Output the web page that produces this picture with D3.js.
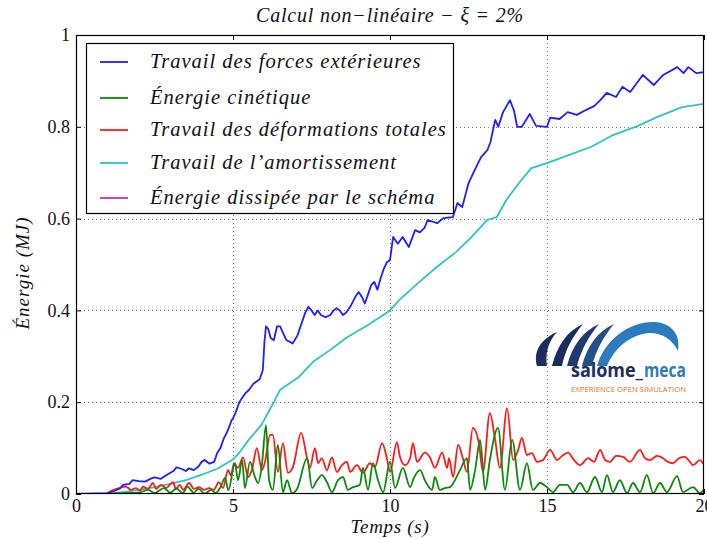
<!DOCTYPE html>
<html><head><meta charset="utf-8">
<script src="https://cdn.jsdelivr.net/npm/d3@7"></script>
<style>body{margin:0;background:#fff}svg{display:block}</style>
</head><body>
<svg id="c" width="707" height="539"></svg>
<script>
// ---- data ----
const xTicks = [0, 5, 10, 15, 20];
const yTicks = [0, 0.2, 0.4, 0.6, 0.8, 1];
const yTickLabels = ["0", "0.2", "0.4", "0.6", "0.8", "1"];
const seriesNames = ["Travail des forces extérieures", "Énergie cinétique", "Travail des déformations totales", "Travail de l\u2019amortissement", "Énergie dissipée par le schéma"];
const seriesColors = ["#1f1fff", "#0a8a0a", "#ff1a1a", "#2ec4c0", "#c030c0"];

const forcesExt = [[0,0],[1.0,0.002],[1.2,0.006],[1.4,0.012],[1.5,0.02],[1.7,0.022],[1.8,0.03],[2.0,0.028],[2.2,0.027],[2.4,0.034],[2.5,0.036],[2.7,0.033],[2.9,0.042],[3.1,0.05],[3.2,0.058],[3.35,0.055],[3.5,0.05],[3.6,0.056],[3.75,0.052],[3.9,0.06],[4.0,0.07],[4.1,0.074],[4.25,0.066],[4.4,0.07],[4.5,0.09],[4.6,0.1],[4.7,0.12],[4.8,0.133],[4.9,0.15],[4.95,0.16],[5.0,0.165],[5.1,0.18],[5.2,0.2],[5.3,0.21],[5.4,0.22],[5.5,0.226],[5.65,0.24],[5.75,0.245],[5.85,0.25],[5.95,0.27],[6.0,0.33],[6.05,0.365],[6.12,0.36],[6.2,0.34],[6.3,0.335],[6.4,0.365],[6.5,0.365],[6.6,0.35],[6.7,0.335],[6.8,0.332],[6.9,0.328],[7.05,0.345],[7.2,0.375],[7.3,0.395],[7.4,0.408],[7.5,0.4],[7.6,0.39],[7.7,0.4],[7.8,0.39],[7.95,0.385],[8.1,0.39],[8.2,0.4],[8.3,0.405],[8.4,0.4],[8.5,0.39],[8.6,0.395],[8.75,0.41],[8.9,0.43],[9.0,0.44],[9.1,0.43],[9.2,0.415],[9.3,0.435],[9.4,0.455],[9.5,0.462],[9.6,0.445],[9.7,0.47],[9.8,0.49],[9.9,0.505],[10.0,0.51],[10.1,0.56],[10.25,0.545],[10.4,0.56],[10.6,0.538],[10.8,0.575],[10.95,0.57],[11.1,0.58],[11.2,0.597],[11.5,0.59],[11.7,0.601],[12.0,0.603],[12.15,0.634],[12.3,0.625],[12.5,0.677],[12.65,0.699],[12.9,0.734],[13.1,0.749],[13.2,0.767],[13.35,0.815],[13.45,0.8],[13.6,0.832],[13.82,0.858],[13.95,0.835],[14.05,0.8],[14.2,0.8],[14.45,0.828],[14.65,0.802],[15.0,0.8],[15.1,0.82],[15.4,0.817],[15.66,0.832],[15.95,0.826],[16.25,0.837],[16.5,0.845],[16.7,0.858],[16.9,0.874],[17.2,0.865],[17.4,0.887],[17.65,0.876],[18.05,0.913],[18.4,0.891],[18.7,0.913],[19.15,0.93],[19.35,0.917],[19.5,0.93],[19.75,0.917],[20,0.919]];

const cinetique = [[0,0],[1.0,0],[1.5,0.002],[2.0,0.003],[2.3,0.009],[2.5,0.002],[2.8,0.013],[3.0,0.003],[3.2,0.012],[3.4,0.002],[3.55,0.016],[3.75,0.003],[3.9,0.011],[4.1,0.001],[4.3,0.009],[4.45,0.002],[4.6,0.015],[4.75,0.035],[4.85,0.008],[5.06,0.067],[5.16,0.03],[5.29,0.074],[5.38,0.013],[5.54,0.07],[5.7,0.037],[5.8,0.024],[5.92,0.063],[6.05,0.15],[6.15,0.03],[6.27,0.009],[6.43,0.107],[6.59,0.004],[6.72,0.03],[6.88,0.002],[7.04,0.011],[7.36,0.078],[7.52,0.013],[7.68,0.03],[7.83,0.041],[7.99,0.026],[8.15,0.004],[8.34,0.03],[8.5,0.037],[8.66,0.009],[8.82,0.015],[9.04,0.02],[9.14,0.057],[9.3,0.009],[9.46,0.067],[9.62,0.03],[9.78,0.004],[10.0,0.07],[10.16,0.013],[10.41,0.057],[10.64,0.015],[10.76,0.035],[10.96,0.052],[11.11,0.03],[11.34,0.009],[11.43,0.037],[11.59,0.009],[11.75,0.013],[11.91,0.015],[12.23,0.052],[12.45,0.078],[12.55,0.009],[12.71,0.052],[12.87,0.118],[13.03,0.009],[13.18,0.074],[13.44,0.144],[13.66,0.009],[13.89,0.118],[14.14,0.009],[14.36,0.067],[14.55,0.009],[14.78,0.024],[15.0,0.015],[15.19,0.004],[15.41,0.02],[15.64,0.02],[15.83,0.004],[16.05,0.024],[16.27,0.004],[16.53,0.037],[16.75,0.004],[16.91,0.041],[17.1,0.004],[17.32,0.03],[17.55,0.002],[17.74,0.024],[17.96,0.004],[18.18,0.041],[18.38,0.002],[18.6,0.024],[18.82,0.004],[19.14,0.039],[19.33,0.004],[19.65,0.015],[19.87,0.002],[20,0.009]];

const deformations = [[0,0],[1.0,0.001],[1.05,0.004],[1.37,0.013],[1.59,0.016],[1.75,0.009],[1.91,0.013],[2.04,0.007],[2.13,0.016],[2.29,0.011],[2.45,0.024],[2.55,0.011],[2.71,0.02],[2.87,0.013],[3.09,0.026],[3.18,0.011],[3.31,0.02],[3.41,0.009],[3.6,0.024],[3.76,0.011],[3.92,0.015],[4.08,0.009],[4.24,0.013],[4.39,0.009],[4.55,0.026],[4.68,0.013],[4.84,0.052],[4.94,0.04],[5.03,0.067],[5.16,0.057],[5.32,0.08],[5.48,0.037],[5.6,0.052],[5.76,0.1],[5.92,0.052],[6.02,0.07],[6.18,0.129],[6.27,0.129],[6.43,0.048],[6.59,0.111],[6.75,0.046],[6.91,0.059],[7.17,0.133],[7.36,0.078],[7.45,0.057],[7.61,0.1],[7.71,0.067],[7.83,0.078],[7.99,0.052],[8.15,0.08],[8.31,0.048],[8.47,0.063],[8.63,0.07],[8.73,0.048],[8.95,0.063],[9.14,0.046],[9.36,0.067],[9.52,0.059],[9.75,0.111],[9.9,0.078],[10.0,0.048],[10.22,0.113],[10.32,0.08],[10.48,0.063],[10.64,0.078],[10.73,0.111],[10.86,0.07],[11.11,0.09],[11.27,0.08],[11.43,0.057],[11.66,0.09],[11.82,0.057],[11.88,0.078],[12.01,0.037],[12.17,0.107],[12.32,0.078],[12.45,0.048],[12.64,0.144],[12.83,0.111],[12.96,0.048],[13.18,0.176],[13.34,0.122],[13.5,0.057],[13.73,0.187],[13.92,0.074],[14.08,0.096],[14.2,0.122],[14.36,0.085],[14.52,0.089],[14.68,0.07],[14.87,0.074],[15.1,0.096],[15.32,0.074],[15.48,0.083],[15.67,0.09],[15.86,0.074],[16.05,0.063],[16.31,0.078],[16.5,0.07],[16.69,0.096],[16.85,0.074],[17.0,0.07],[17.2,0.083],[17.42,0.081],[17.64,0.07],[17.96,0.096],[18.12,0.078],[18.28,0.074],[18.5,0.083],[18.69,0.078],[18.85,0.07],[19.01,0.067],[19.2,0.078],[19.39,0.081],[19.55,0.07],[19.65,0.063],[19.87,0.074],[20,0.063]];

const amortissement = [[0,0],[1.0,0.001],[1.5,0.004],[2.0,0.009],[2.5,0.015],[3.0,0.022],[3.5,0.03],[4.0,0.042],[4.5,0.055],[5.0,0.075],[5.2,0.09],[5.5,0.118],[5.9,0.15],[6.3,0.2],[6.5,0.227],[7.1,0.255],[7.55,0.288],[8.1,0.314],[8.6,0.34],[9.3,0.368],[9.7,0.386],[10.0,0.4],[10.3,0.423],[10.9,0.46],[11.5,0.495],[12.1,0.527],[12.6,0.56],[13.1,0.597],[13.4,0.603],[13.7,0.64],[14.1,0.677],[14.5,0.71],[15.0,0.721],[15.6,0.736],[16.4,0.756],[17.1,0.782],[17.9,0.802],[18.5,0.821],[19.3,0.843],[20,0.85]];

const dissipee = [[0,0],[5,0],[10,0],[15,0],[20,0]];

const series = [forcesExt, cinetique, deformations, amortissement, dissipee];

// ---- layout ----
const L = 76, R = 704, T = 35, B = 494;
const svg = d3.select("#c");
const x = d3.scaleLinear().domain([0, 20]).range([L, R]);
const y = d3.scaleLinear().domain([0, 1]).range([B, T]);
const SERIF = "Liberation Serif";

svg.append("defs").append("clipPath").attr("id", "clip")
  .append("rect").attr("x", L).attr("y", T).attr("width", R - L).attr("height", B - T);

// grid
const grid = svg.append("g").attr("stroke", "#777").attr("stroke-width", 1).attr("stroke-dasharray", "1,3");
grid.selectAll(".gx").data(xTicks.slice(1, -1)).join("line")
  .attr("x1", d => Math.round(x(d)) + 0.5).attr("x2", d => Math.round(x(d)) + 0.5).attr("y1", T).attr("y2", B);
grid.selectAll(".gy").data(yTicks.slice(1, -1)).join("line")
  .attr("y1", d => Math.round(y(d)) + 0.5).attr("y2", d => Math.round(y(d)) + 0.5).attr("x1", L).attr("x2", R);

// lines
const plot = svg.append("g").attr("clip-path", "url(#clip)");
const lineLin = d3.line().x(d => x(d[0])).y(d => y(d[1]));
const lineSmooth = d3.line().x(d => x(d[0])).y(d => y(d[1])).curve(d3.curveMonotoneX);
[3, 2, 1, 0, 4].forEach(i => {
  plot.append("path").datum(series[i])
    .attr("d", (i === 1 || i === 2) ? lineSmooth : lineLin)
    .attr("fill", "none").attr("stroke", seriesColors[i])
    .attr("stroke-width", 1.8).attr("stroke-linejoin", "round");
});

// axes (ticks inside, all sides)
const tl = 5;
const axB = svg.append("g").attr("transform", `translate(0,${B})`)
  .call(d3.axisBottom(x).tickValues(xTicks).tickFormat(d3.format("d")).tickSizeInner(-tl).tickSizeOuter(0).tickPadding(5));
const axT = svg.append("g").attr("transform", `translate(0,${T})`)
  .call(d3.axisTop(x).tickValues(xTicks).tickFormat("").tickSizeInner(-tl).tickSizeOuter(0));
const axL = svg.append("g").attr("transform", `translate(${L},0)`)
  .call(d3.axisLeft(y).tickValues(yTicks).tickFormat((d, i) => yTickLabels[i]).tickSizeInner(-tl).tickSizeOuter(0).tickPadding(6));
const axR = svg.append("g").attr("transform", `translate(${R},0)`)
  .call(d3.axisRight(y).tickValues(yTicks).tickFormat("").tickSizeInner(-tl).tickSizeOuter(0));
[axB, axT, axL, axR].forEach(a => {
  a.attr("font-family", SERIF).attr("font-size", 18);
  a.select(".domain").remove();
  a.selectAll("line").attr("stroke", "#000");
  a.selectAll("text").attr("font-family", SERIF).attr("font-size", 18).attr("fill", "#111");
});
svg.append("rect").attr("x", L + 0.5).attr("y", T + 0.5).attr("width", R - L - 1).attr("height", B - T - 1)
  .attr("fill", "none").attr("stroke", "#000").attr("stroke-width", 1.2);

function itext(sel, size, ls) {
  return sel.attr("font-family", SERIF).attr("font-style", "italic")
    .attr("font-size", size).attr("letter-spacing", ls).attr("fill", "#111");
}
// titles
itext(svg.append("text").attr("x", 390).attr("y", 22).attr("text-anchor", "middle"), 20, 0.8)
  .text("Calcul non\u2212linéaire  \u2212  \u03be = 2%");
itext(svg.append("text").attr("x", 390).attr("y", 533).attr("text-anchor", "middle"), 19, 0.7)
  .text("Temps (s)");
itext(svg.append("text").attr("transform", "translate(29,273) rotate(-90)").attr("text-anchor", "middle"), 19, 1)
  .text("Énergie (MJ)");

// legend
const lg = svg.append("g");
lg.append("rect").attr("x", 86.5).attr("y", 43.5).attr("width", 367).attr("height", 170)
  .attr("fill", "#fff").attr("stroke", "#000").attr("stroke-width", 1.2);
const legY = [62, 98, 130, 163, 198];
seriesNames.forEach((n, i) => {
  lg.append("line").attr("x1", 100).attr("x2", 128).attr("y1", legY[i]).attr("y2", legY[i])
    .attr("stroke", seriesColors[i]).attr("stroke-width", 1.8);
  itext(lg.append("text").attr("x", 150).attr("y", legY[i] + 6), 20.5, 1.0).text(n);
});

// logo
const logo = svg.append("g");
logo.append("path").attr("fill", "#1b2c5e").attr("d", "M537,366 C533,351 541,339 557,332 C548,342 545,354 547,366 Z");
logo.append("path").attr("fill", "#1b2c5e").attr("d", "M552,366 C557,346 567,331 583,324 C573,336 565,350 562,366 Z");
logo.append("path").attr("fill", "#1f3a70").attr("d", "M567,366 C572,346 583,331 599,324 C589,336 581,350 577,366 Z");
logo.append("path").attr("fill", "#24508a").attr("d", "M582,366 C587,346 598,331 614,324 C604,336 596,350 592,366 Z");
logo.append("path").attr("fill", "#2c7bbf").attr("d", "M597,366 C605,339 630,321 655,322 C670,323 681,333 678,351 C672,339 662,333 650,333 C630,334 614,349 607,366 Z");
logo.append("text").attr("x", 571).attr("y", 377).attr("font-family", "Open Sans")
  .attr("font-weight", "bold").attr("font-size", 19).attr("fill", "#1b2c5e")
  .attr("textLength", 72).attr("lengthAdjust", "spacingAndGlyphs").text("salome_");
logo.append("text").attr("x", 644).attr("y", 377).attr("font-family", "Open Sans")
  .attr("font-weight", "bold").attr("font-size", 19).attr("fill", "#2c7bbf")
  .attr("textLength", 42).attr("lengthAdjust", "spacingAndGlyphs").text("meca");
logo.append("text").attr("x", 571).attr("y", 392).attr("font-family", "Open Sans")
  .attr("font-size", 7.5).attr("fill", "#e07020").attr("textLength", 115).attr("lengthAdjust", "spacingAndGlyphs")
  .text("EXPERIENCE OPEN SIMULATION");
</script>
</body></html>
